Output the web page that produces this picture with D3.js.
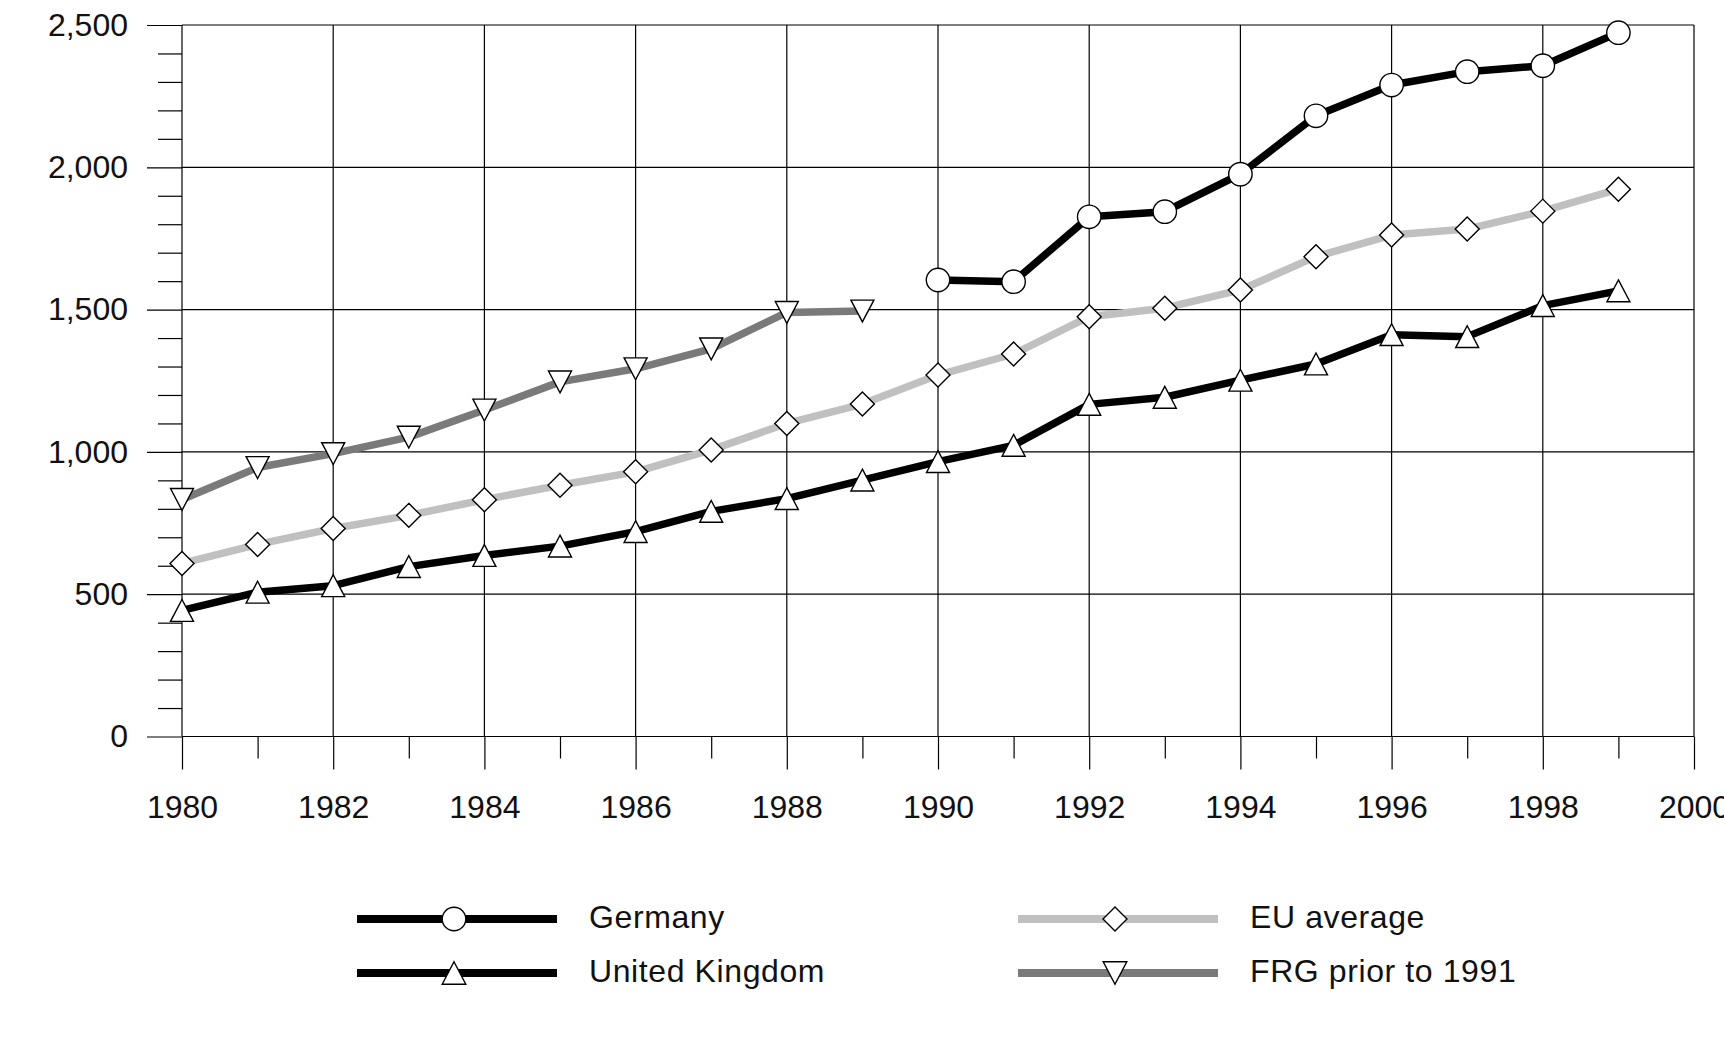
<!DOCTYPE html>
<html>
<head>
<meta charset="utf-8">
<script src="https://cdn.jsdelivr.net/npm/d3@7"></script>
<style>
  body { margin: 0; background: #fff; }
  svg { display: block; font-family: "Liberation Sans", Arial, sans-serif; }
  .axis path.domain { display: none; }
  .axis line { stroke: #000; stroke-width: 1.2; }
  .axis text { fill: #111; font-size: 32px; }
</style>
</head>
<body>
<div class="chart"></div>
<script>
// Data
var years = [1980, 1981, 1982, 1983, 1984, 1985, 1986, 1987, 1988, 1989,
             1990, 1991, 1992, 1993, 1994, 1995, 1996, 1997, 1998, 1999];
var germanyYears = [1990, 1991, 1992, 1993, 1994, 1995, 1996, 1997, 1998, 1999];
var frgYears = [1980, 1981, 1982, 1983, 1984, 1985, 1986, 1987, 1988, 1989];

var germany = [1604, 1598, 1826, 1844, 1976, 2181, 2289, 2336, 2357, 2473];
var euAverage = [608, 675, 731, 777, 832, 883, 930, 1007, 1100, 1168,
                 1270, 1344, 1475, 1505, 1569, 1686, 1762, 1783, 1846, 1923];
var unitedKingdom = [443, 507, 530, 597, 636, 669, 720, 791, 836, 901,
                     966, 1023, 1167, 1192, 1252, 1309, 1412, 1405, 1514, 1566];
var frg = [833, 945, 994, 1052, 1147, 1246, 1292, 1362, 1490, 1495];

var yMajorTicks = [0, 500, 1000, 1500, 2000, 2500];
var xMajorTicks = [1980, 1982, 1984, 1986, 1988, 1990, 1992, 1994, 1996, 1998, 2000];

var legendNames = ["Germany", "United Kingdom", "EU average", "FRG prior to 1991"];

// Dimensions
var width = 1724;
var height = 1038;
var plotLeft = 182, plotRight = 1694, plotTop = 25, plotBottom = 736.5;

var svg = d3.select(".chart")
  .append("svg")
  .attr("width", width)
  .attr("height", height);

var x = d3.scaleLinear().domain([1980, 2000]).range([plotLeft, plotRight]);
var y = d3.scaleLinear().domain([0, 2500]).range([plotBottom, plotTop]);

// Minor ticks
var yMinor = d3.range(0, 2501, 100).filter(function (v) { return v % 500 !== 0; });
var xMinor = d3.range(1981, 2000, 2);

// Horizontal grid
svg.append("g")
  .selectAll("line")
  .data(yMajorTicks)
  .enter().append("line")
  .attr("x1", plotLeft).attr("x2", plotRight)
  .attr("y1", function (d) { return y(d); })
  .attr("y2", function (d) { return y(d); })
  .attr("stroke", "#000")
  .attr("stroke-width", 1.2);

// Vertical grid
svg.append("g")
  .selectAll("line")
  .data(xMajorTicks)
  .enter().append("line")
  .attr("x1", function (d) { return x(d); })
  .attr("x2", function (d) { return x(d); })
  .attr("y1", plotTop).attr("y2", plotBottom)
  .attr("stroke", "#000")
  .attr("stroke-width", 1.2);

// Y axis
svg.append("g")
  .attr("class", "axis")
  .attr("transform", "translate(" + plotLeft + ",0)")
  .call(d3.axisLeft(y).tickValues(yMajorTicks).tickSize(35).tickPadding(19)
    .tickFormat(d3.format(",")));

svg.append("g")
  .attr("class", "axis")
  .attr("transform", "translate(" + plotLeft + ",0)")
  .call(d3.axisLeft(y).tickValues(yMinor).tickSize(24).tickFormat(""));

// X axis
svg.append("g")
  .attr("class", "axis")
  .attr("transform", "translate(0," + plotBottom + ")")
  .call(d3.axisBottom(x).tickValues(xMajorTicks).tickSize(33).tickPadding(26)
    .tickFormat(d3.format("d")));

svg.append("g")
  .attr("class", "axis")
  .attr("transform", "translate(0," + plotBottom + ")")
  .call(d3.axisBottom(x).tickValues(xMinor).tickSize(22).tickFormat(""));

// Marker shapes
function markerPath(shape, s) {
  if (shape === "circle") {
    return "M" + (-s) + ",0A" + s + "," + s + " 0 1,0 " + s + ",0A" + s + "," + s + " 0 1,0 " + (-s) + ",0Z";
  }
  if (shape === "diamond") {
    return "M0," + (-s) + "L" + s + ",0L0," + s + "L" + (-s) + ",0Z";
  }
  var h = s * 0.95;
  if (shape === "up") {
    return "M0," + (-h) + "L" + s + "," + h + "L" + (-s) + "," + h + "Z";
  }
  return "M0," + h + "L" + s + "," + (-h) + "L" + (-s) + "," + (-h) + "Z";
}

var series = [
  { name: legendNames[2], xs: years, values: euAverage, color: "#c0c0c0", shape: "diamond", size: 12 },
  { name: legendNames[3], xs: frgYears, values: frg, color: "#7a7a7a", shape: "down", size: 11.5 },
  { name: legendNames[1], xs: years, values: unitedKingdom, color: "#000", shape: "up", size: 11.5 },
  { name: legendNames[0], xs: germanyYears, values: germany, color: "#000", shape: "circle", size: 11.7 }
];

var line = d3.line()
  .x(function (d) { return x(d[0]); })
  .y(function (d) { return y(d[1]); });

series.forEach(function (s) {
  var pts = s.xs.map(function (yr, i) { return [yr, s.values[i]]; });
  var g = svg.append("g");
  g.append("path")
    .datum(pts)
    .attr("d", line)
    .attr("fill", "none")
    .attr("stroke", s.color)
    .attr("stroke-width", 7.5)
    .attr("stroke-linejoin", "round");
  g.selectAll("path.marker")
    .data(pts)
    .enter().append("path")
    .attr("class", "marker")
    .attr("transform", function (d) { return "translate(" + x(d[0]) + "," + y(d[1]) + ")"; })
    .attr("d", markerPath(s.shape, s.size))
    .attr("fill", "#fff")
    .attr("stroke", "#000")
    .attr("stroke-width", 1.4);
});

// Legend
var legendItems = [
  { name: legendNames[0], color: "#000", shape: "circle", size: 11.8, x: 357, y: 919 },
  { name: legendNames[1], color: "#000", shape: "up", size: 11.8, x: 357, y: 973 },
  { name: legendNames[2], color: "#c0c0c0", shape: "diamond", size: 12, x: 1018, y: 919 },
  { name: legendNames[3], color: "#7a7a7a", shape: "down", size: 11.8, x: 1018, y: 973 }
];

var legend = svg.selectAll(".legend")
  .data(legendItems)
  .enter().append("g")
  .attr("class", "legend")
  .attr("transform", function (d) { return "translate(" + d.x + "," + d.y + ")"; });

legend.append("line")
  .attr("x1", 0).attr("x2", 200)
  .attr("stroke", function (d) { return d.color; })
  .attr("stroke-width", 8);

legend.append("path")
  .attr("transform", "translate(97,0)")
  .attr("d", function (d) { return markerPath(d.shape, d.size); })
  .attr("fill", "#fff")
  .attr("stroke", "#000")
  .attr("stroke-width", 1.4);

legend.append("text")
  .attr("x", 232)
  .attr("y", 9)
  .style("font-size", "32px")
  .style("letter-spacing", "0.6px")
  .style("fill", "#111")
  .text(function (d) { return d.name; });
</script>
</body>
</html>
